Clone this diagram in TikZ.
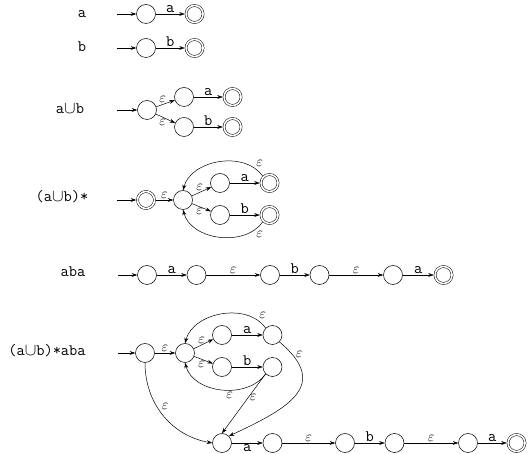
\documentclass[tikz,border=0pt]{standalone}
\usepackage{amsmath, amssymb, tikz}
\usetikzlibrary{positioning, arrows.meta}

\newcommand{\epsl}{{\fontsize{14}{16}\selectfont$\varepsilon$}}
\newcommand{\cupsym}{$\cup$}

\tikzset{
  stnode/.style={draw, circle, minimum size=19pt, inner sep=0pt, line width=0.5pt},
  accnode/.style={draw, circle, double, double distance=1.6pt, minimum size=17pt,
    inner sep=0pt, outer sep=1.3pt, line width=0.5pt},
  trans/.style={-{Stealth[length=5.5pt, width=3.8pt]}, line width=0.5pt},
  rowlbl/.style={font=\ttfamily\fontsize{16}{18}\selectfont, text height=11pt, text depth=3pt, inner sep=0pt},
  tlbl/.style={font=\ttfamily\fontsize{16}{18}\selectfont, inner sep=1.5pt}
}

\begin{document}
\begin{tikzpicture}[x=1pt, y=-1pt]
    \useasboundingbox (0,0) rectangle (528,454);

    % a
    \node[rowlbl] (lbla) at (82,14) {a};
    \coordinate (a0) at (117,14);
    \node[stnode] (a1) at (146,14) {};
    \node[accnode, right=29pt of a1] (a2) {};
    \draw[trans] (a0) -- (a1);
    \draw[trans] (a1) -- node[above, tlbl] {a} (a2);

    % b
    \node[rowlbl] (lblb) at (82,48) {b};
    \coordinate (b0) at (117,48);
    \node[stnode] (b1) at (146,48) {};
    \node[accnode, right=29pt of b1] (b2) {};
    \draw[trans] (b0) -- (b1);
    \draw[trans] (b1) -- node[above, tlbl] {b} (b2);

    % union
    \node[rowlbl] (lblu) at (70,110) {a\cupsym b};
    \coordinate (u0) at (117,110);
    \node[stnode] (u1) at (147,110) {};
    \node[stnode] (u2) at (184,97) {};
    \node[stnode] (u3) at (184,127) {};
    \node[accnode, right=29pt of u2] (u4) {};
    \node[accnode, right=29pt of u3] (u5) {};
    \draw[trans] (u0) -- (u1);
    \draw[trans] (u1) -- node[pos=.35, above, tlbl] {\epsl} (u2);
    \draw[trans] (u1) -- node[pos=.35, below, tlbl] {\epsl} (u3);
    \draw[trans] (u2) -- node[above, tlbl] {a} (u4);
    \draw[trans] (u3) -- node[above, tlbl] {b} (u5);

    % star
    \node[rowlbl] (lbls) at (62,198) {(a\cupsym b)*};
    \coordinate (s0) at (117,200);
    \node[accnode] (s1) at (146,200) {};
    \node[stnode] (s2) at (183,200) {};
    \node[stnode] (s3) at (220,183) {};
    \node[stnode] (s4) at (220,215) {};
    \node[accnode, right=30pt of s3] (s5) {};
    \node[accnode, right=30pt of s4] (s6) {};
    \draw[trans] (s0) -- (s1);
    \draw[trans] (s1) -- node[above, tlbl] {\epsl} (s2);
    \draw[trans] (s2) -- node[pos=.4, above, tlbl] {\epsl} (s3);
    \draw[trans] (s2) -- node[pos=.4, below, tlbl] {\epsl} (s4);
    \draw[trans] (s3) -- node[above, tlbl] {a} (s5);
    \draw[trans] (s4) -- node[above, tlbl] {b} (s6);
    \draw[trans] (s5.north west) to[out=125, in=75] node[pos=.12, above right, tlbl] {\epsl} (s2.north);
    \draw[trans] (s6.south west) to[out=-125, in=-75] node[pos=.12, below right, tlbl] {\epsl} (s2.south);

    % concatenation
    \node[rowlbl] (lblc) at (73,273) {aba};
    \coordinate (t0) at (118,275);
    \node[stnode] (t1) at (147,275) {};
    \node[stnode, right=30pt of t1] (t2) {};
    \node[stnode, right=54pt of t2] (t3) {};
    \node[stnode, right=30pt of t3] (t4) {};
    \node[stnode, right=54pt of t4] (t5) {};
    \node[accnode, right=31pt of t5] (t6) {};
    \draw[trans] (t0) -- (t1);
    \draw[trans] (t1) -- node[above, tlbl] {a} (t2);
    \draw[trans] (t2) -- node[above, tlbl] {\epsl} (t3);
    \draw[trans] (t3) -- node[above, tlbl] {b} (t4);
    \draw[trans] (t4) -- node[above, tlbl] {\epsl} (t5);
    \draw[trans] (t5) -- node[above, tlbl] {a} (t6);

    % star then concatenation
    \node[rowlbl] (lblr) at (47,352) {(a\cupsym b)*aba};
    \coordinate (r0) at (118,353);
    \node[stnode] (r1) at (145,353) {};
    \node[stnode] (r2) at (185,353) {};
    \node[stnode] (r3) at (222,335) {};
    \node[stnode] (r4) at (222,367) {};
    \node[stnode, right=31pt of r3] (r5) {};
    \node[stnode, right=31pt of r4] (r6) {};
    \node[stnode] (r7) at (222,443) {};
    \node[stnode, right=31pt of r7] (r8) {};
    \node[stnode, right=53pt of r8] (r9) {};
    \node[stnode, right=30pt of r9] (r10) {};
    \node[stnode, right=54pt of r10] (r11) {};
    \node[accnode, right=29pt of r11] (r12) {};
    \draw[trans] (r0) -- (r1);
    \draw[trans] (r1) -- node[above, tlbl] {\epsl} (r2);
    \draw[trans] (r2) -- node[pos=.4, above, tlbl] {\epsl} (r3);
    \draw[trans] (r2) -- node[pos=.4, below, tlbl] {\epsl} (r4);
    \draw[trans] (r3) -- node[above, tlbl] {a} (r5);
    \draw[trans] (r4) -- node[above, tlbl] {b} (r6);
    \draw[trans] (r5.north west) to[out=125, in=75] node[pos=.12, above right, tlbl] {\epsl} (r2.north);
    \draw[trans] (r6.south west) to[out=-125, in=-75] node[pos=.42, below, tlbl] {\epsl} (r2.south);
    \draw[trans] (r1.south) to[out=-90, in=170] node[pos=.45, above right, tlbl] {\epsl} (r7.west);
    \draw[trans] (r5.south east) to[out=-40, in=25, looseness=1.6] node[pos=.1, right=2pt, tlbl] {\epsl} (r7.north east);
    \draw[trans] (r6.south west) -- node[pos=.4, right, tlbl] {\epsl} (r7.north);
    \draw[trans] (r7) -- node[below, tlbl] {a} (r8);
    \draw[trans] (r8) -- node[above, tlbl] {\epsl} (r9);
    \draw[trans] (r9) -- node[above, tlbl] {b} (r10);
    \draw[trans] (r10) -- node[above, tlbl] {\epsl} (r11);
    \draw[trans] (r11) -- node[above, tlbl] {a} (r12);
\end{tikzpicture}
\end{document}
